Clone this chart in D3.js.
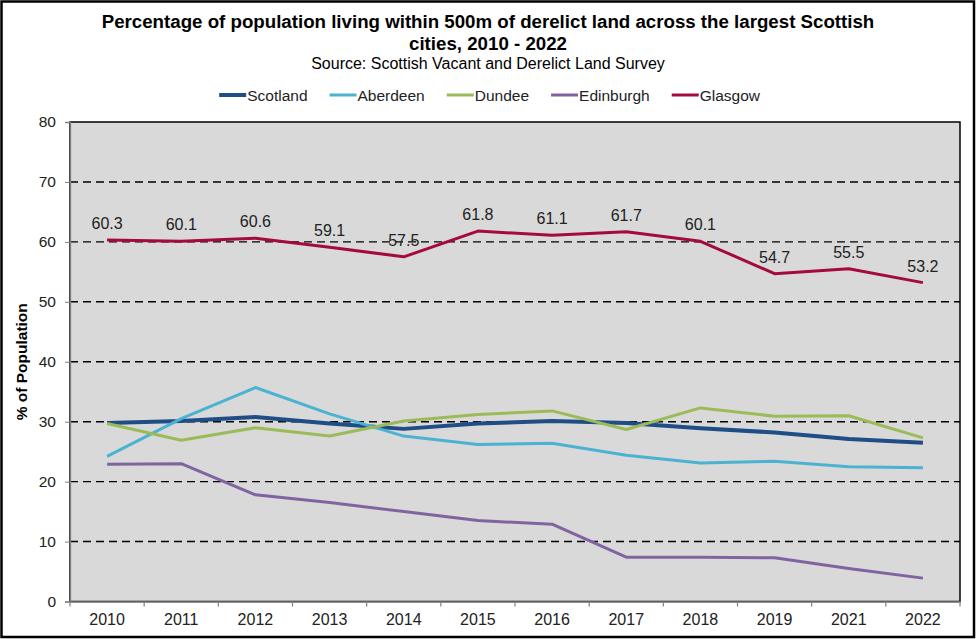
<!DOCTYPE html>
<html><head><meta charset="utf-8">
<script src="https://cdn.jsdelivr.net/npm/d3@7"></script>
<style>body{margin:0;background:#fff}svg{display:block}text{font-family:"Liberation Sans",Arial,sans-serif}</style>
</head><body>
<script>
const years = ["2010","2011","2012","2013","2014","2015","2016","2017","2018","2019","2021","2022"];
const scotland  = [29.8,30.1,30.8,29.7,28.8,29.7,30.1,29.8,28.9,28.2,27.1,26.5];
const aberdeen  = [24.2,30.5,35.7,31.3,27.6,26.2,26.4,24.4,23.1,23.4,22.5,22.3];
const dundee    = [29.7,26.9,29.0,27.6,30.1,31.2,31.8,28.7,32.3,30.9,31.0,27.3];
const edinburgh = [22.9,23.0,17.8,16.5,15.0,13.5,12.9,7.4,7.4,7.3,5.5,3.9];
const glasgow   = [60.3,60.1,60.6,59.1,57.5,61.8,61.1,61.7,60.1,54.7,55.5,53.2];
const seriesNames = ["Scotland","Aberdeen","Dundee","Edinburgh","Glasgow"];
const seriesColors = ["#1F4E86","#4BB3D1","#9BBB59","#8064A2","#A50A3C"];
const yTicks = [0,10,20,30,40,50,60,70,80];
const titleLines = ["Percentage of population living within 500m of derelict land across the largest Scottish","cities, 2010 - 2022"];
const subtitle = "Source: Scottish Vacant and Derelict Land Survey";
const yTitle = "% of Population";

const series = [scotland,aberdeen,dundee,edinburgh,glasgow].map((v,i)=>({name:seriesNames[i],color:seriesColors[i],values:v}));

const W=976,H=639;
const svg=d3.select("body").append("svg").attr("width",W).attr("height",H);
svg.append("rect").attr("width",W).attr("height",H).attr("fill","#fff");
svg.append("rect").attr("x",1.5).attr("y",1.5).attr("width",W-3.5).attr("height",H-3.5).attr("fill","none").attr("stroke","#000").attr("stroke-width",2.5);

const L=70,R=960,T=122,B=601.5;
const x=d3.scaleBand().domain(years).range([L,R]).padding(0);
const y=d3.scaleLinear().domain([0,80]).range([B,T]);
const cx=d=>x(d)+x.bandwidth()/2;

// plot area
svg.append("rect").attr("x",L).attr("y",T).attr("width",R-L).attr("height",B-T).attr("fill","#D9D9D9").attr("stroke","#000").attr("stroke-width",1.5);

// grid
svg.append("g").selectAll("line").data(yTicks.filter(t=>t>0&&t<80)).join("line")
  .attr("x1",L).attr("x2",R).attr("y1",d=>y(d)).attr("y2",d=>y(d))
  .attr("stroke","#000").attr("stroke-width",1.4).attr("stroke-dasharray","8,5");

// axes
const yAxis=d3.axisLeft(y).tickValues(yTicks).tickSize(5).tickPadding(9);
const gy=svg.append("g").attr("transform",`translate(${L},0)`).call(yAxis);
gy.select(".domain").attr("stroke","#808080").attr("stroke-width",1.3);
gy.selectAll(".tick line").attr("stroke","#808080");
gy.selectAll("text").attr("font-size",15.5).attr("fill","#222").attr("font-family","Liberation Sans, Arial, sans-serif");

const xAxis=d3.axisBottom(x).tickSize(0).tickPadding(12);
const gx=svg.append("g").attr("transform",`translate(0,${B})`).call(xAxis);
gx.select(".domain").attr("stroke","#808080").attr("stroke-width",1.3);
gx.selectAll("text").attr("font-size",16).attr("fill","#222").attr("font-family","Liberation Sans, Arial, sans-serif");
// category boundary ticks
svg.append("g").selectAll("line").data(d3.range(years.length+1)).join("line")
  .attr("x1",i=>L+i*x.step()).attr("x2",i=>L+i*x.step()).attr("y1",B).attr("y2",B+5)
  .attr("stroke","#808080").attr("stroke-width",1.2);

// lines
const line=d3.line().x((d,i)=>cx(years[i])).y(d=>y(d));
svg.append("g").selectAll("path").data(series).join("path")
  .attr("d",s=>line(s.values)).attr("fill","none").attr("stroke",s=>s.color)
  .attr("stroke-width",(s,i)=>i===0?4:3).attr("stroke-linejoin","round");

// glasgow labels
svg.append("g").selectAll("text").data(glasgow).join("text")
  .attr("x",(d,i)=>cx(years[i])).attr("y",d=>y(d)-11).attr("text-anchor","middle")
  .attr("font-size",16).attr("fill","#222").text(d=>d.toFixed(1));

// title
svg.append("g").selectAll("text").data(titleLines).join("text")
  .attr("x",488).attr("y",(d,i)=>28+i*22).attr("text-anchor","middle")
  .attr("font-size",18.7).attr("font-weight","bold").attr("fill","#000").text(d=>d);
svg.append("text").attr("x",488).attr("y",69).attr("text-anchor","middle")
  .attr("font-size",16).attr("fill","#000").text(subtitle);

// y title
svg.append("text").attr("transform",`translate(27,${(T+B)/2}) rotate(-90)`).attr("text-anchor","middle")
  .attr("font-size",15.5).attr("font-weight","bold").attr("fill","#000").text(yTitle);

// legend
const lg=svg.append("g");
const items=lg.selectAll("g").data(series).join("g");
items.append("line").attr("x1",0).attr("x2",27).attr("y1",0).attr("y2",0).attr("stroke",d=>d.color).attr("stroke-width",(d,i)=>i===0?4:3);
items.append("text").attr("x",28).attr("y",5.5).attr("font-size",15.5).attr("fill","#222").text(d=>d.name);
let off=0;const gap=22;
items.each(function(){const w=this.getBBox().width;d3.select(this).attr("data-off",off);off+=w+gap;});
const total=off-gap;const start=490-total/2;
items.attr("transform",function(){return `translate(${start+ +this.getAttribute("data-off")},95)`;});
</script>
</body></html>
